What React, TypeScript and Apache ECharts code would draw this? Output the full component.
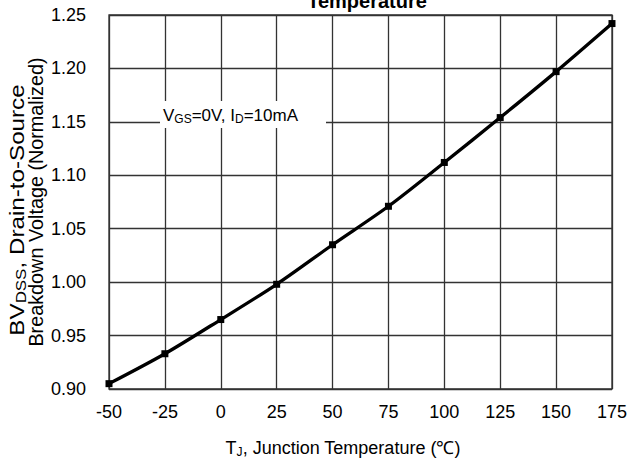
import React, { useEffect, useRef } from "react";
import * as echarts from "echarts";

const temperatures = [-50, -25, 0, 25, 50, 75, 100, 125, 150, 175];
const bvdssNormalized = [0.905, 0.933, 0.965, 0.998, 1.035, 1.071, 1.112, 1.154, 1.197, 1.242];
const xRange = { min: -50, max: 175, step: 25 };
const yRange = { min: 0.9, max: 1.25, step: 0.05 };
const titleText = "Temperature";
const xAxisName = "{n|T}{s|J}{n|, Junction Temperature (℃)}";
const yNameLine1 = "{n|BV}{s|DSS}{n|, Drain-to-Source}";
const yNameLine2 = "{n|Breakdown Voltage (Normalized)}";
const annotation = "{n|V}{s|GS}{n|=0V, I}{s|D}{n|=10mA}";

const FONT = "'Liberation Sans', Arial, sans-serif";

function richStyle(size: number, sub: number, color = "#000") {
  return {
    n: { fontSize: size, fontFamily: FONT, color, lineHeight: size + 4 },
    s: { fontSize: sub, fontFamily: FONT, color, lineHeight: size + 4, padding: [size * 0.45, 0, 0, 0] },
  };
}

export default function App() {
  const ref = useRef<HTMLDivElement>(null);
  useEffect(() => {
    if (!ref.current) return;
    const chart = echarts.init(ref.current, undefined, { renderer: "svg" });
    chart.setOption({
      animation: false,
      backgroundColor: "#fff",
      grid: {
        left: 109,
        right: 18,
        top: 15,
        bottom: 74,
        show: true,
        borderColor: "#333",
        borderWidth: 1.3,
      },
      xAxis: {
        type: "value",
        min: xRange.min,
        max: xRange.max,
        interval: xRange.step,
        axisLine: { show: false },
        axisTick: { show: false },
        axisLabel: { fontSize: 18, fontFamily: FONT, color: "#000", margin: 14 },
        splitLine: { show: true, lineStyle: { color: "#333", width: 1.3 } },
      },
      yAxis: {
        type: "value",
        min: yRange.min,
        max: yRange.max,
        interval: yRange.step,
        axisLine: { show: false },
        axisTick: { show: false },
        axisLabel: {
          fontSize: 18,
          fontFamily: FONT,
          color: "#000",
          margin: 23,
          formatter: (v: number) => v.toFixed(2),
        },
        splitLine: { show: true, lineStyle: { color: "#333", width: 1.3 } },
      },
      graphic: [
        {
          type: "text",
          x: 367,
          y: 11,
          z: 100,
          style: {
            text: titleText,
            font: `bold 20px ${FONT}`,
            fill: "#000",
            align: "center",
            verticalAlign: "bottom",
          },
        },
        {
          type: "rect",
          z: 100,
          shape: { x: 160, y: 101, width: 166, height: 27 },
          style: { fill: "#fff" },
        },
        {
          type: "text",
          x: 163,
          y: 115,
          z: 101,
          style: {
            text: annotation,
            rich: richStyle(17, 12, "#111"),
            align: "left",
            verticalAlign: "middle",
          },
        },
        {
          type: "text",
          x: 343,
          y: 448,
          z: 100,
          style: {
            text: xAxisName,
            rich: richStyle(18, 12),
            align: "center",
            verticalAlign: "middle",
          },
        },
        {
          type: "text",
          x: 17,
          y: 210,
          rotation: Math.PI / 2,
          scaleX: 1.21,
          z: 100,
          style: {
            text: yNameLine1,
            rich: richStyle(20, 14),
            align: "center",
            verticalAlign: "middle",
          },
        },
        {
          type: "text",
          x: 36,
          y: 202,
          rotation: Math.PI / 2,
          z: 100,
          style: {
            text: yNameLine2,
            rich: richStyle(19.8, 14),
            align: "center",
            verticalAlign: "middle",
          },
        },
      ],
      series: [
        {
          type: "line",
          data: temperatures.map((t, i) => [t, bvdssNormalized[i]]),
          smooth: 0.3,
          symbol: "rect",
          symbolSize: 7,
          itemStyle: { color: "#000" },
          lineStyle: { color: "#000", width: 3.3 },
          z: 10,
        },
      ],
    });
    return () => chart.dispose();
  }, []);
  return (
    <div
      ref={ref}
      style={{ position: "fixed", left: 0, top: 0, width: 630, height: 463, background: "#fff" }}
    />
  );
}
